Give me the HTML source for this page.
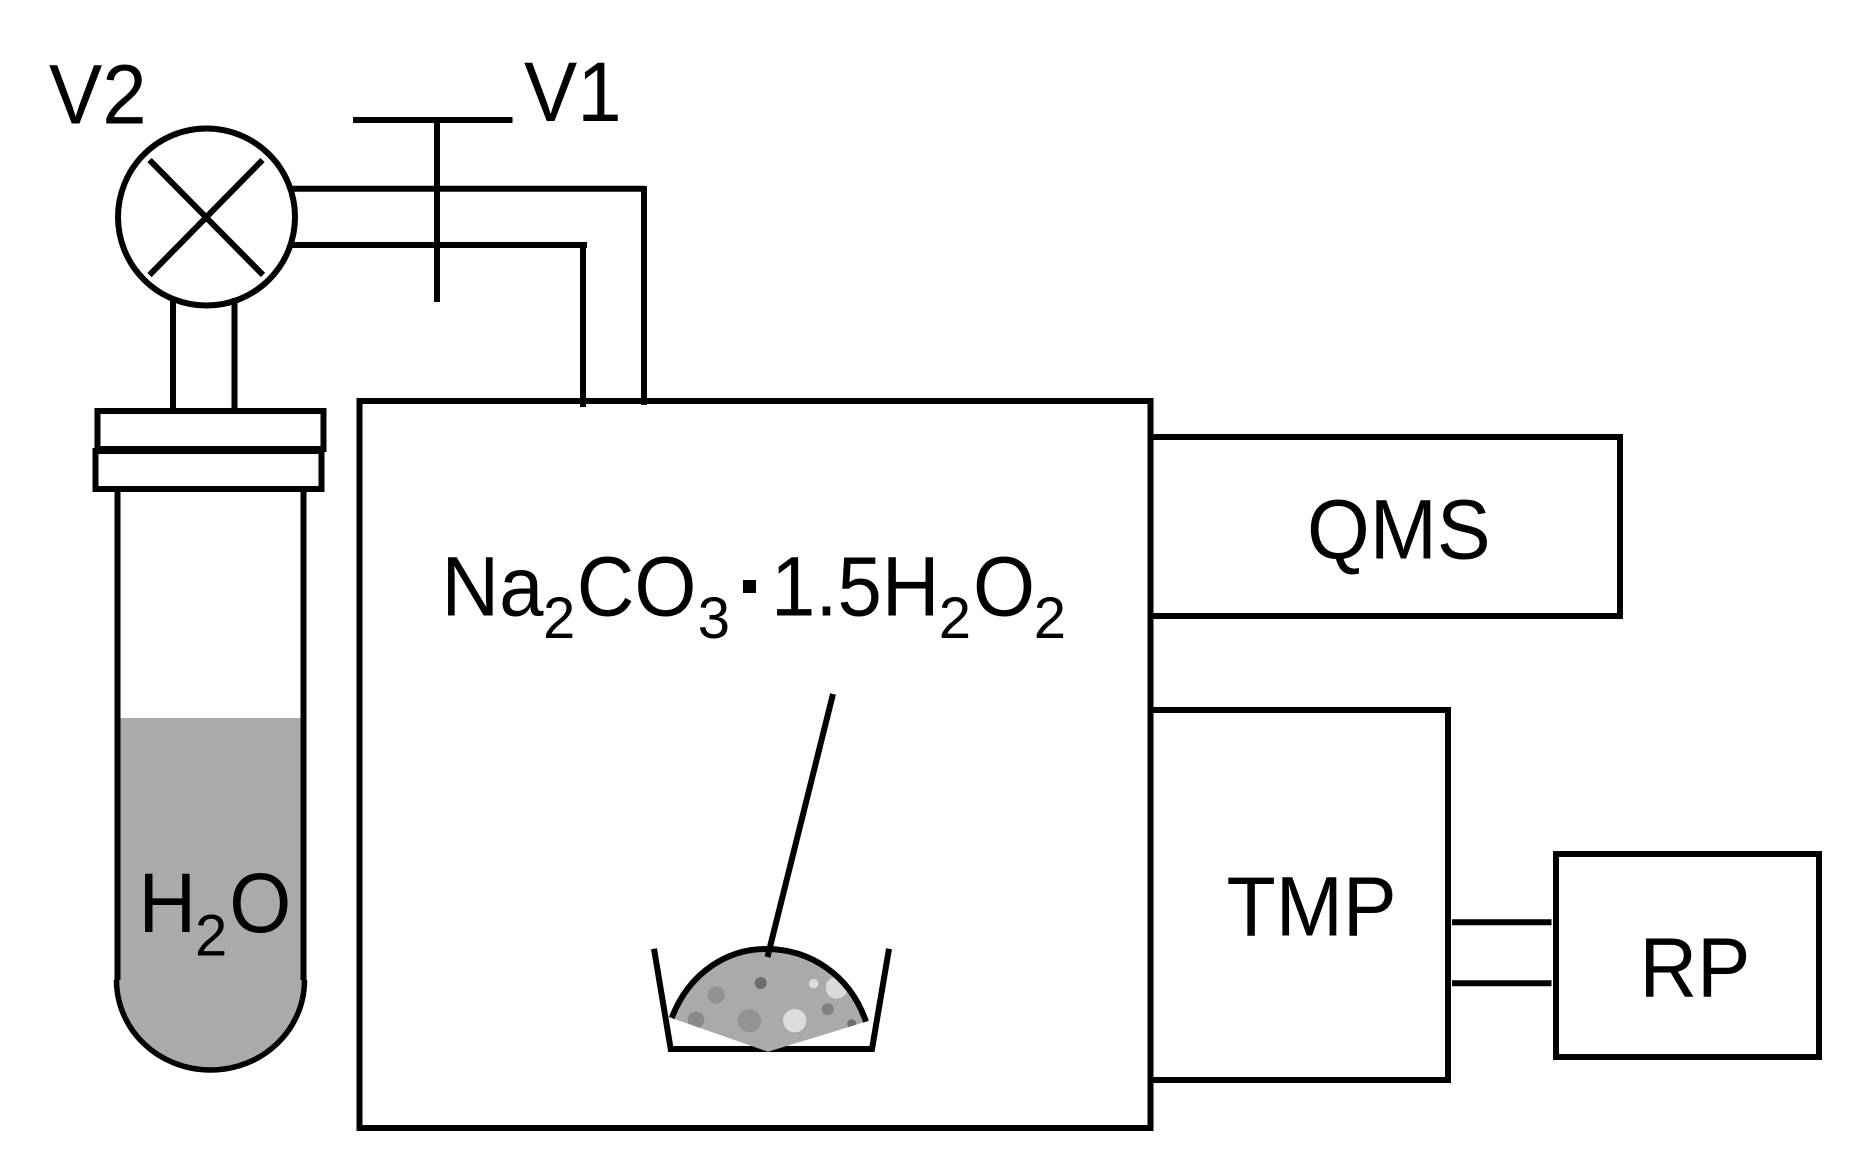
<!DOCTYPE html>
<html>
<head>
<meta charset="utf-8">
<style>
html,body{margin:0;padding:0;background:#fff;width:1850px;height:1160px;overflow:hidden}
svg{display:block}
text{font-family:"Liberation Sans",sans-serif;font-size:84px;fill:#000}
.s{font-size:58px}
</style>
</head>
<body>
<svg width="1850" height="1160" viewBox="0 0 1850 1160" xmlns="http://www.w3.org/2000/svg">
<rect width="1850" height="1160" fill="#fff"/>
<g fill="none" stroke="#000" stroke-width="6">
  <!-- valve V2 -->
  <circle cx="206.500" cy="217" r="88.500"/>
  <path d="M149.500 160L263 275M262.500 160L149.500 275"/>
  <!-- V1 -->
  <path d="M353 120H512.500"/>
  <path d="M437 120V302"/>
  <!-- pipes -->
  <path d="M292 188.700H644M644 186V405"/>
  <path d="M292 245H586"/>
  <path d="M583 243V407"/>
  <rect x="582" y="242" width="5" height="6" fill="#000" stroke="none"/>
  <!-- neck -->
  <path d="M173 298V411M234.500 298V411"/>
  <!-- flanges -->
  <rect x="97.500" y="411" width="226" height="38"/>
  <rect x="95.500" y="451" width="226" height="38"/>
  <!-- chamber -->
  <rect x="359.500" y="401" width="791" height="727"/>
  <!-- QMS, TMP, RP -->
  <path d="M1150 437H1620V616H1150"/>
  <path d="M1150 710H1448V1080H1150"/>
  <rect x="1556" y="854" width="263" height="203"/>
  <path d="M1452 922.300H1551.500M1452 983.300H1551.500"/>
</g>
<!-- tube -->
<path d="M116.500 718H304.500V980C304.500 1030 262.500 1070 210.500 1070C158.500 1070 116.500 1030 116.500 980Z" fill="#aaa"/>
<path d="M117.500 492V980M303.500 492V980" fill="none" stroke="#000" stroke-width="6"/>
<path d="M116.500 980C116.500 1030 158.500 1070 210.500 1070C262.500 1070 304.500 1030 304.500 980" fill="none" stroke="#000" stroke-width="5.500"/>
<!-- crucible -->
<clipPath id="d"><path d="M671.700 1018C690 970 730 949 766 949C810 949 850 975 866 1021.700L768 1051.700Z"/></clipPath>
<path d="M654 948.700L670.700 1049H872L889 948.700" fill="none" stroke="#000" stroke-width="6"/>
<path d="M671.700 1018C690 970 730 949 766 949C810 949 850 975 866 1021.700L768 1051.700Z" fill="#aaa"/>
<g clip-path="url(#d)">
  <circle cx="696" cy="1020" r="8.300" fill="#888"/>
  <circle cx="716.300" cy="995" r="8.700" fill="#929292"/>
  <circle cx="760.700" cy="983" r="6" fill="#6e6e6e"/>
  <circle cx="749.300" cy="1020.700" r="11.700" fill="#939393"/>
  <circle cx="794.700" cy="1020.700" r="11.700" fill="#dcdcdc"/>
  <circle cx="813.700" cy="983.700" r="4.700" fill="#ddd"/>
  <circle cx="836.700" cy="987.700" r="11" fill="#dadada"/>
  <circle cx="827.700" cy="1009.300" r="6" fill="#808080"/>
  <circle cx="851.700" cy="1023.700" r="4.500" fill="#6e6e6e"/>
</g>
<path d="M671.700 1018C690 970 730 949 766 949C810 949 850 975 866 1021.700" fill="none" stroke="#000" stroke-width="6"/>
<path d="M833 694L767.500 957" fill="none" stroke="#000" stroke-width="6"/>
<!-- labels -->
<text transform="translate(49 123.500) scale(.95 1)">V2</text>
<text transform="translate(524 121) scale(.95 1)">V1</text>
<text transform="translate(441.500 615.500) scale(.95 1)">Na</text>
<text class="s" x="543" y="638">2</text>
<text transform="translate(576.700 615.500) scale(.95 1)">CO</text>
<text class="s" x="697.800" y="638">3</text>
<rect x="743" y="580" width="13" height="13" fill="#000"/>
<text transform="translate(771 615.500) scale(.95 1)">1.5H</text>
<text class="s" x="938.800" y="638">2</text>
<text transform="translate(973 615.500) scale(.95 1)">O</text>
<text class="s" x="1033.800" y="638">2</text>
<text transform="translate(138.500 932) scale(.95 1)">H</text>
<text class="s" x="195" y="955.300">2</text>
<text transform="translate(229.200 932) scale(.95 1)">O</text>
<text transform="translate(1307 558.500) scale(.96 1)">QMS</text>
<text transform="translate(1226.500 935.500) scale(.96 1)">TMP</text>
<text transform="translate(1639.500 996.500) scale(.95 1)">RP</text>
</svg>
</body>
</html>
